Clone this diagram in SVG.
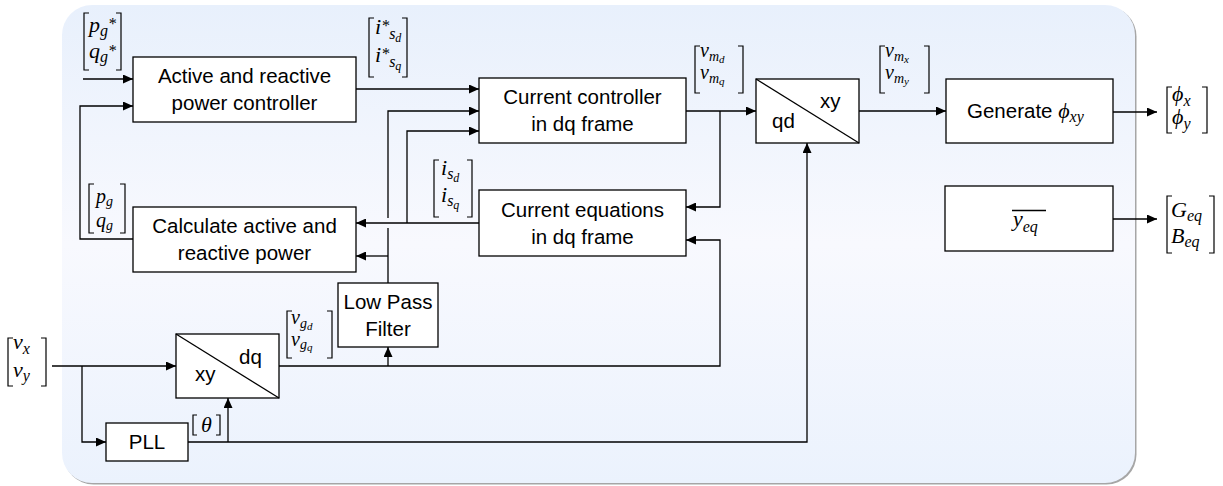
<svg xmlns="http://www.w3.org/2000/svg" width="1223" height="486" viewBox="0 0 1223 486">
<defs>
<linearGradient id="bg" x1="0" y1="0" x2="0" y2="1">
<stop offset="0" stop-color="#e8f0fc"/>
<stop offset="0.5" stop-color="#f8f9fe"/>
<stop offset="1" stop-color="#ebf2fd"/>
</linearGradient>
<marker id="ah" markerWidth="10" markerHeight="9" refX="10" refY="4.5" orient="auto" markerUnits="userSpaceOnUse">
<path d="M0,0 L10,4.5 L0,9 z" fill="#000"/>
</marker>
<style>
.box{fill:#fff;stroke:#000;stroke-width:1.3}
.ln{fill:none;stroke:#000;stroke-width:1.3}
.arr{fill:none;stroke:#000;stroke-width:1.3;marker-end:url(#ah)}
.t{font-family:"Liberation Sans",Arial,sans-serif;font-size:20.5px;fill:#000;text-anchor:middle}
.tl{font-family:"Liberation Sans",Arial,sans-serif;font-size:20.5px;fill:#000}
.m{font-family:"Liberation Serif","Times New Roman",serif;font-style:italic;font-size:22px;fill:#000}
.m2{font-family:"Liberation Serif","Times New Roman",serif;font-style:italic;font-size:20px;fill:#000}
.s{font-size:16px}
.s2{font-size:14px}
.ss{font-size:12px}
.ss2{font-size:11px}
.br{fill:none;stroke:#000;stroke-width:1.2}
</style>
</defs>
<g id="background">
<rect x="63.5" y="6.5" width="1073" height="478" rx="30" fill="#a6a6a6"/>
<rect x="62" y="5" width="1073" height="478" rx="30" fill="url(#bg)"/>
</g>
<g id="connectors">
<path class="arr" d="M83,79 H133"/>
<path class="arr" d="M133,239 H80 V106 H133"/>
<path class="arr" d="M356,89 H479"/>
<path class="arr" d="M388,283 V228 M388,218 V111 H479"/>
<path class="arr" d="M388,256 H356"/>
<path class="arr" d="M479,223 H356"/>
<path class="arr" d="M407,223 V131 H479"/>
<path class="arr" d="M686,111 H756"/>
<path class="arr" d="M720,111 V207 H686"/>
<path class="arr" d="M279,366 H720 V240 H686"/>
<path class="arr" d="M388,366 V347"/>
<path class="arr" d="M52,366 H176"/>
<path class="arr" d="M82,366 V442 H106"/>
<path class="arr" d="M188,442 H807 V143"/>
<path class="arr" d="M228,442 V398"/>
<path class="arr" d="M859,111 H946"/>
<path class="arr" d="M1113,112 H1157"/>
<path class="arr" d="M1113,219 H1157"/>
</g>
<g id="apc">
<rect class="box" x="133" y="57" width="223" height="65"/>
<text class="t" x="244.5" y="83">Active and reactive</text>
<text class="t" x="244.5" y="110">power controller</text>
</g>
<g id="current-controller">
<rect class="box" x="479" y="78" width="207" height="65"/>
<text class="t" x="582.5" y="104">Current controller</text>
<text class="t" x="582.5" y="131">in dq frame</text>
</g>
<g id="current-equations">
<rect class="box" x="479" y="190" width="207" height="66"/>
<text class="t" x="582.5" y="216.5">Current equations</text>
<text class="t" x="582.5" y="243.5">in dq frame</text>
</g>
<g id="calc-power">
<rect class="box" x="133" y="207" width="223" height="65"/>
<text class="t" x="244.5" y="233">Calculate active and</text>
<text class="t" x="244.5" y="260">reactive power</text>
</g>
<g id="lpf">
<rect class="box" x="338" y="283" width="100" height="64"/>
<text class="t" x="388" y="308.5">Low Pass</text>
<text class="t" x="388" y="335.5">Filter</text>
</g>
<g id="xy-dq">
<rect class="box" x="176" y="334" width="103" height="64"/>
<path class="ln" d="M176,334 L279,398"/>
<text class="tl" x="239" y="364">dq</text>
<text class="tl" x="195" y="381">xy</text>
</g>
<g id="pll">
<rect class="box" x="106" y="423" width="82" height="38"/>
<text class="t" x="147" y="449">PLL</text>
</g>
<g id="qd-xy">
<rect class="box" x="756" y="79" width="103" height="64"/>
<path class="ln" d="M756,79 L859,143"/>
<text class="tl" x="820" y="108">xy</text>
<text class="tl" x="772" y="128">qd</text>
</g>
<g id="generate">
<rect class="box" x="946" y="79" width="167" height="64"/>
<text x="967" y="118"><tspan class="tl">Generate </tspan><tspan class="m">ϕ</tspan><tspan class="m s" dy="4">xy</tspan></text>
</g>
<g id="yeq">
<rect class="box" x="945" y="186" width="168" height="65"/>
<path class="ln" d="M1012,210.5 H1046" stroke-width="1.1"/>
<text class="m" x="1013" y="226">y<tspan class="s" dy="6">eq</tspan></text>
</g>
<g id="labels">
<path class="br" d="M89,13 H84 V70 H89 M116,13 H121 V70 H116"/>
<text class="m" x="89" y="32">p<tspan class="s" dy="4">g</tspan><tspan class="s" dy="-7">*</tspan><tspan x="89" y="58">q</tspan><tspan class="s" dy="4">g</tspan><tspan class="s" dy="-6">*</tspan></text>

<path class="br" d="M374,18 H369 V77 H374 M402,18 H407 V77 H402"/>
<text class="m" x="375" y="34">i<tspan class="s" dy="-3">*</tspan><tspan class="s" dy="8">s</tspan><tspan class="ss" dy="3">d</tspan><tspan x="375" y="62">i</tspan><tspan class="s" dy="-3">*</tspan><tspan class="s" dy="8">s</tspan><tspan class="ss" dy="3">q</tspan></text>

<path class="br" d="M700,46 H695 V93 H700 M738,46 H743 V93 H738"/>
<text class="m2" x="700" y="57">v<tspan class="s2" dy="4">m</tspan><tspan class="ss2" dy="2">d</tspan><tspan x="700" y="79">v</tspan><tspan class="s2" dy="4">m</tspan><tspan class="ss2" dy="2">q</tspan></text>

<path class="br" d="M885,46 H880 V93 H885 M924,46 H929 V93 H924"/>
<text class="m2" x="885" y="57">v<tspan class="s2" dy="4">m</tspan><tspan class="ss2" dy="2">x</tspan><tspan x="885" y="79">v</tspan><tspan class="s2" dy="4">m</tspan><tspan class="ss2" dy="2">y</tspan></text>

<path class="br" d="M439,160 H434 V217 H439 M467,160 H472 V217 H467"/>
<text class="m" x="441" y="175">i<tspan class="s" dy="4">s</tspan><tspan class="ss" dy="3">d</tspan><tspan x="441" y="202">i</tspan><tspan class="s" dy="4">s</tspan><tspan class="ss" dy="3">q</tspan></text>

<path class="br" d="M94,184 H89 V233 H94 M120,184 H125 V233 H120"/>
<text class="m2" x="96" y="203">p<tspan class="s2" dy="3">g</tspan><tspan x="96" y="227">q</tspan><tspan class="s2" dy="3">g</tspan></text>

<path class="br" d="M292,311 H287 V358 H292 M327,311 H332 V358 H327"/>
<text class="m2" x="291" y="324">v<tspan class="s2" dy="4">g</tspan><tspan class="ss2" dy="2">d</tspan><tspan x="291" y="346">v</tspan><tspan class="s2" dy="3">g</tspan><tspan class="ss2" dy="2">q</tspan></text>

<path class="br" d="M13,338 H8 V386 H13 M41,338 H46 V386 H41"/>
<text class="m" x="13" y="349">v<tspan class="s" dy="5">x</tspan><tspan x="13" y="377">v</tspan><tspan class="s" dy="4">y</tspan></text>

<path class="br" d="M197,415 H193 V435 H197 M216,415 H220 V435 H216"/>
<text class="m" x="201" y="432">θ</text>

<path class="br" d="M1172,87 H1167 V133 H1172 M1202,87 H1207 V133 H1202"/>
<text class="m" x="1172" y="101">ϕ<tspan class="s" dy="5">x</tspan><tspan x="1172" y="124">ϕ</tspan><tspan class="s" dy="5">y</tspan></text>

<path class="br" d="M1172,196 H1167 V253 H1172 M1209,196 H1214 V253 H1209"/>
<text class="m" x="1171" y="217">G<tspan class="s" dy="4">eq</tspan><tspan x="1171" y="243">B</tspan><tspan class="s" dy="4">eq</tspan></text>
</g>
</svg>
